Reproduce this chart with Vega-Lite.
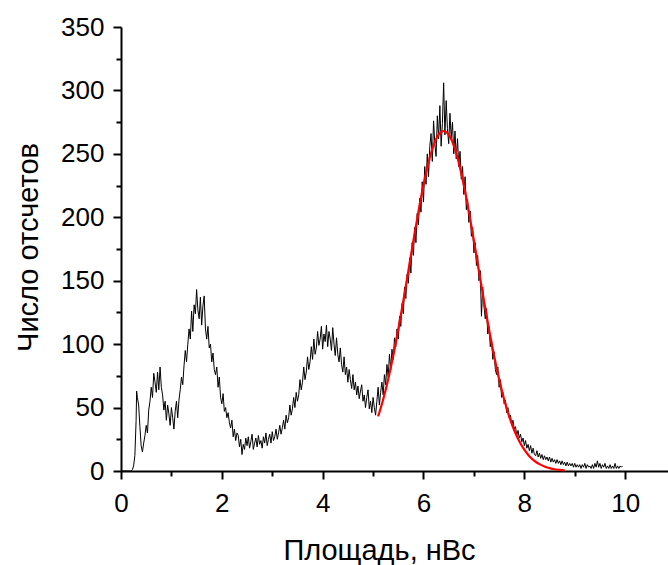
{
  "$schema": "https://vega.github.io/schema/vega-lite/v6.json",
  "autosize": {"type": "none"},
  "padding": {"left": 121, "top": 27, "right": 0, "bottom": 94},
  "width": 547,
  "height": 444,
  "background": "white",
  "config": {"view": {"stroke": null}},
  "datasets": {
    "hist": [
      {"x":0,"y":0},{"x":0.05,"y":0},{"x":0.1,"y":0},{"x":0.15,"y":0},{"x":0.2,"y":0},
      {"x":0.225,"y":1},{"x":0.25,"y":4},{"x":0.275,"y":12},{"x":0.3,"y":40},{"x":0.31,"y":63},
      {"x":0.325,"y":58},{"x":0.35,"y":52},{"x":0.375,"y":35},{"x":0.4,"y":20},{"x":0.425,"y":15},
      {"x":0.45,"y":22},{"x":0.475,"y":28},{"x":0.5,"y":36},{"x":0.525,"y":30},{"x":0.55,"y":48},
      {"x":0.575,"y":55},{"x":0.6,"y":66},{"x":0.625,"y":58},{"x":0.65,"y":77},{"x":0.675,"y":70},
      {"x":0.7,"y":62},{"x":0.725,"y":78},{"x":0.75,"y":64},{"x":0.775,"y":82},{"x":0.8,"y":66},
      {"x":0.825,"y":60},{"x":0.85,"y":48},{"x":0.875,"y":55},{"x":0.9,"y":40},{"x":0.925,"y":52},
      {"x":0.95,"y":45},{"x":0.975,"y":36},{"x":1.0,"y":50},{"x":1.025,"y":42},{"x":1.05,"y":33},
      {"x":1.075,"y":47},{"x":1.1,"y":55},{"x":1.125,"y":42},{"x":1.15,"y":56},{"x":1.175,"y":64},
      {"x":1.2,"y":74},{"x":1.225,"y":68},{"x":1.25,"y":83},{"x":1.275,"y":95},{"x":1.3,"y":86},
      {"x":1.325,"y":100},{"x":1.35,"y":112},{"x":1.375,"y":104},{"x":1.4,"y":126},{"x":1.425,"y":110},
      {"x":1.45,"y":131},{"x":1.475,"y":124},{"x":1.5,"y":143},{"x":1.525,"y":127},{"x":1.55,"y":120},
      {"x":1.575,"y":137},{"x":1.6,"y":115},{"x":1.625,"y":130},{"x":1.65,"y":138},{"x":1.675,"y":112},
      {"x":1.7,"y":104},{"x":1.725,"y":114},{"x":1.75,"y":97},{"x":1.775,"y":100},{"x":1.8,"y":86},
      {"x":1.825,"y":93},{"x":1.85,"y":80},{"x":1.875,"y":76},{"x":1.9,"y":82},{"x":1.925,"y":66},
      {"x":1.95,"y":74},{"x":1.975,"y":58},{"x":2.0,"y":53},{"x":2.025,"y":61},{"x":2.05,"y":47},
      {"x":2.075,"y":50},{"x":2.1,"y":42},{"x":2.125,"y":46},{"x":2.15,"y":38},{"x":2.175,"y":34},
      {"x":2.2,"y":40},{"x":2.225,"y":27},{"x":2.25,"y":33},{"x":2.275,"y":24},{"x":2.3,"y":30},
      {"x":2.325,"y":28},{"x":2.35,"y":19},{"x":2.375,"y":25},{"x":2.4,"y":13},{"x":2.425,"y":21},
      {"x":2.45,"y":17},{"x":2.475,"y":26},{"x":2.5,"y":20},{"x":2.525,"y":27},{"x":2.55,"y":18},
      {"x":2.575,"y":23},{"x":2.6,"y":29},{"x":2.625,"y":17},{"x":2.65,"y":22},{"x":2.675,"y":26},
      {"x":2.7,"y":19},{"x":2.725,"y":28},{"x":2.75,"y":21},{"x":2.775,"y":24},{"x":2.8,"y":18},
      {"x":2.825,"y":27},{"x":2.85,"y":22},{"x":2.875,"y":30},{"x":2.9,"y":20},{"x":2.925,"y":25},
      {"x":2.95,"y":29},{"x":2.975,"y":22},{"x":3.0,"y":31},{"x":3.025,"y":24},{"x":3.05,"y":27},
      {"x":3.075,"y":33},{"x":3.1,"y":25},{"x":3.125,"y":30},{"x":3.15,"y":36},{"x":3.175,"y":29},
      {"x":3.2,"y":34},{"x":3.225,"y":40},{"x":3.25,"y":33},{"x":3.275,"y":44},{"x":3.3,"y":38},
      {"x":3.325,"y":42},{"x":3.35,"y":52},{"x":3.375,"y":44},{"x":3.4,"y":49},{"x":3.425,"y":58},
      {"x":3.45,"y":50},{"x":3.475,"y":62},{"x":3.5,"y":55},{"x":3.525,"y":60},{"x":3.55,"y":72},
      {"x":3.575,"y":64},{"x":3.6,"y":70},{"x":3.625,"y":82},{"x":3.65,"y":72},{"x":3.675,"y":78},
      {"x":3.7,"y":90},{"x":3.725,"y":80},{"x":3.75,"y":86},{"x":3.775,"y":98},{"x":3.8,"y":88},
      {"x":3.825,"y":104},{"x":3.85,"y":92},{"x":3.875,"y":97},{"x":3.9,"y":110},{"x":3.925,"y":99},
      {"x":3.95,"y":104},{"x":3.975,"y":114},{"x":4.0,"y":96},{"x":4.025,"y":108},{"x":4.05,"y":102},
      {"x":4.075,"y":115},{"x":4.1,"y":98},{"x":4.125,"y":110},{"x":4.15,"y":104},{"x":4.175,"y":95},
      {"x":4.2,"y":113},{"x":4.225,"y":100},{"x":4.25,"y":91},{"x":4.275,"y":105},{"x":4.3,"y":92},
      {"x":4.325,"y":86},{"x":4.35,"y":97},{"x":4.375,"y":84},{"x":4.4,"y":78},{"x":4.425,"y":90},
      {"x":4.45,"y":76},{"x":4.475,"y":82},{"x":4.5,"y":70},{"x":4.525,"y":80},{"x":4.55,"y":72},
      {"x":4.575,"y":65},{"x":4.6,"y":76},{"x":4.625,"y":64},{"x":4.65,"y":70},{"x":4.675,"y":60},
      {"x":4.7,"y":67},{"x":4.725,"y":57},{"x":4.75,"y":63},{"x":4.775,"y":68},{"x":4.8,"y":55},
      {"x":4.825,"y":60},{"x":4.85,"y":50},{"x":4.875,"y":58},{"x":4.9,"y":64},{"x":4.925,"y":49},
      {"x":4.95,"y":55},{"x":4.975,"y":46},{"x":5.0,"y":58},{"x":5.025,"y":50},{"x":5.05,"y":44},
      {"x":5.075,"y":55},{"x":5.1,"y":66},{"x":5.125,"y":52},{"x":5.15,"y":62},{"x":5.175,"y":70},
      {"x":5.2,"y":60},{"x":5.225,"y":76},{"x":5.25,"y":68},{"x":5.275,"y":84},{"x":5.3,"y":74},
      {"x":5.325,"y":92},{"x":5.35,"y":80},{"x":5.375,"y":96},{"x":5.4,"y":88},{"x":5.425,"y":105},
      {"x":5.45,"y":98},{"x":5.475,"y":112},{"x":5.5,"y":104},{"x":5.525,"y":122},{"x":5.55,"y":114},
      {"x":5.575,"y":132},{"x":5.6,"y":124},{"x":5.625,"y":145},{"x":5.65,"y":136},{"x":5.675,"y":155},
      {"x":5.7,"y":148},{"x":5.725,"y":168},{"x":5.75,"y":156},{"x":5.775,"y":180},{"x":5.8,"y":170},
      {"x":5.825,"y":192},{"x":5.85,"y":180},{"x":5.875,"y":203},{"x":5.9,"y":194},{"x":5.925,"y":215},
      {"x":5.95,"y":204},{"x":5.975,"y":228},{"x":6.0,"y":212},{"x":6.025,"y":240},{"x":6.05,"y":226},
      {"x":6.075,"y":250},{"x":6.1,"y":232},{"x":6.125,"y":256},{"x":6.15,"y":266},{"x":6.175,"y":244},
      {"x":6.2,"y":276},{"x":6.225,"y":258},{"x":6.25,"y":248},{"x":6.275,"y":280},{"x":6.3,"y":262},
      {"x":6.325,"y":288},{"x":6.35,"y":256},{"x":6.375,"y":274},{"x":6.4,"y":306},{"x":6.425,"y":265},
      {"x":6.45,"y":292},{"x":6.475,"y":270},{"x":6.5,"y":258},{"x":6.525,"y":282},{"x":6.55,"y":262},
      {"x":6.575,"y":275},{"x":6.6,"y":250},{"x":6.625,"y":268},{"x":6.65,"y":246},{"x":6.675,"y":262},
      {"x":6.7,"y":240},{"x":6.725,"y":252},{"x":6.75,"y":230},{"x":6.775,"y":240},{"x":6.8,"y":218},
      {"x":6.825,"y":232},{"x":6.85,"y":206},{"x":6.875,"y":214},{"x":6.9,"y":196},{"x":6.925,"y":205},
      {"x":6.95,"y":185},{"x":6.975,"y":192},{"x":7.0,"y":172},{"x":7.025,"y":180},{"x":7.05,"y":162},
      {"x":7.075,"y":170},{"x":7.1,"y":150},{"x":7.125,"y":158},{"x":7.15,"y":122},{"x":7.175,"y":145},
      {"x":7.2,"y":130},{"x":7.225,"y":120},{"x":7.25,"y":128},{"x":7.275,"y":108},{"x":7.3,"y":114},
      {"x":7.325,"y":98},{"x":7.35,"y":104},{"x":7.375,"y":88},{"x":7.4,"y":94},{"x":7.425,"y":80},
      {"x":7.45,"y":76},{"x":7.475,"y":82},{"x":7.5,"y":66},{"x":7.525,"y":72},{"x":7.55,"y":58},
      {"x":7.575,"y":62},{"x":7.6,"y":53},{"x":7.625,"y":56},{"x":7.65,"y":46},{"x":7.675,"y":50},
      {"x":7.7,"y":42},{"x":7.725,"y":44},{"x":7.75,"y":36},{"x":7.775,"y":40},{"x":7.8,"y":33},
      {"x":7.825,"y":35},{"x":7.85,"y":28},{"x":7.875,"y":32},{"x":7.9,"y":26},{"x":7.925,"y":29},
      {"x":7.95,"y":23},{"x":7.975,"y":26},{"x":8.0,"y":20},{"x":8.025,"y":24},{"x":8.05,"y":18},
      {"x":8.075,"y":21},{"x":8.1,"y":16},{"x":8.125,"y":20},{"x":8.15,"y":14},{"x":8.175,"y":18},
      {"x":8.2,"y":13},{"x":8.225,"y":12},{"x":8.25,"y":16},{"x":8.275,"y":11},{"x":8.3,"y":14},
      {"x":8.325,"y":10},{"x":8.35,"y":13},{"x":8.375,"y":9},{"x":8.4,"y":12},{"x":8.425,"y":9},
      {"x":8.45,"y":11},{"x":8.475,"y":8},{"x":8.5,"y":11},{"x":8.525,"y":7},{"x":8.55,"y":10},
      {"x":8.575,"y":7},{"x":8.6,"y":9},{"x":8.625,"y":6},{"x":8.65,"y":9},{"x":8.675,"y":6},
      {"x":8.7,"y":8},{"x":8.725,"y":5},{"x":8.75,"y":8},{"x":8.775,"y":5},{"x":8.8,"y":7},
      {"x":8.825,"y":4},{"x":8.85,"y":7},{"x":8.875,"y":4},{"x":8.9,"y":6},{"x":8.925,"y":4},
      {"x":8.95,"y":6},{"x":8.975,"y":3},{"x":9.0,"y":6},{"x":9.025,"y":3},{"x":9.05,"y":5},
      {"x":9.075,"y":3},{"x":9.1,"y":5},{"x":9.125,"y":2},{"x":9.15,"y":5},{"x":9.175,"y":3},
      {"x":9.2,"y":6},{"x":9.225,"y":2},{"x":9.25,"y":5},{"x":9.275,"y":3},{"x":9.3,"y":4},
      {"x":9.325,"y":2},{"x":9.35,"y":5},{"x":9.375,"y":2},{"x":9.4,"y":6},{"x":9.425,"y":3},
      {"x":9.45,"y":8},{"x":9.475,"y":3},{"x":9.5,"y":6},{"x":9.525,"y":2},{"x":9.55,"y":5},
      {"x":9.575,"y":3},{"x":9.6,"y":6},{"x":9.625,"y":2},{"x":9.65,"y":4},{"x":9.675,"y":2},
      {"x":9.7,"y":5},{"x":9.725,"y":2},{"x":9.75,"y":4},{"x":9.775,"y":2},{"x":9.8,"y":6},
      {"x":9.825,"y":2},{"x":9.85,"y":4},{"x":9.875,"y":2},{"x":9.9,"y":4},{"x":9.925,"y":3},
      {"x":9.95,"y":4}
    ],
    "fit": [
      {"x":5.1,"y":43.0},{"x":5.2,"y":56.4},{"x":5.3,"y":72.4},{"x":5.4,"y":90.8},{"x":5.5,"y":111.5},
      {"x":5.6,"y":134.1},{"x":5.7,"y":157.7},{"x":5.8,"y":181.5},{"x":5.9,"y":204.5},{"x":6.0,"y":225.4},
      {"x":6.1,"y":243.1},{"x":6.2,"y":256.6},{"x":6.3,"y":265.1},{"x":6.4,"y":268.0},{"x":6.5,"y":265.1},
      {"x":6.6,"y":256.6},{"x":6.7,"y":243.1},{"x":6.8,"y":225.4},{"x":6.9,"y":204.5},{"x":7.0,"y":181.5},
      {"x":7.1,"y":157.7},{"x":7.2,"y":134.1},{"x":7.3,"y":111.5},{"x":7.4,"y":90.8},{"x":7.5,"y":72.4},
      {"x":7.6,"y":56.4},{"x":7.7,"y":43.0},{"x":7.8,"y":32.1},{"x":7.9,"y":23.5},{"x":8.0,"y":16.8},
      {"x":8.1,"y":11.7},{"x":8.2,"y":8.0},{"x":8.3,"y":5.4},{"x":8.4,"y":3.5},{"x":8.5,"y":2.3},
      {"x":8.6,"y":1.4},{"x":8.7,"y":0.9},{"x":8.8,"y":0.5}
    ]
  },
  "encoding": {
    "x": {
      "field": "x", "type": "quantitative",
      "scale": {"domain": [0, 10.85], "nice": false, "zero": false},
      "axis": {
        "values": [0,1,2,3,4,5,6,7,8,9,10],
        "labelExpr": "datum.value % 2 === 0 ? datum.label : ''",
        "tickSize": {"condition": {"test": "datum.value % 2 === 0", "value": 8}, "value": 5},
        "grid": false,
        "domainColor": "black", "domainWidth": 2,
        "tickColor": "black", "tickWidth": 2,
        "labelFont": "Liberation Sans", "labelFontSize": 26, "labelColor": "black",
        "labelPadding": 11, "labelFlush": false, "labelOverlap": false,
        "title": "Площадь, нВс",
        "titleFont": "Liberation Sans", "titleFontSize": 29, "titleFontWeight": "normal", "titleColor": "black",
        "titleX": 258, "titleY": 88, "titleBaseline": "alphabetic", "titleAlign": "center"
      }
    },
    "y": {
      "field": "y", "type": "quantitative",
      "scale": {"domain": [0, 350], "nice": false},
      "axis": {
        "values": [0,25,50,75,100,125,150,175,200,225,250,275,300,325,350],
        "labelExpr": "datum.value % 50 === 0 ? datum.label : ''",
        "tickSize": {"condition": {"test": "datum.value % 50 === 0", "value": 8}, "value": 5},
        "grid": false,
        "domainColor": "black", "domainWidth": 2,
        "tickColor": "black", "tickWidth": 2,
        "labelFont": "Liberation Sans", "labelFontSize": 26, "labelColor": "black",
        "labelPadding": 9, "labelFlush": false, "labelOverlap": false,
        "title": "Число отсчетов",
        "titleFont": "Liberation Sans", "titleFontSize": 29, "titleFontWeight": "normal", "titleColor": "black",
        "titleX": -84, "titleY": 220, "titleBaseline": "alphabetic", "titleAlign": "center", "titleAngle": -90
      }
    }
  },
  "layer": [
    {"data": {"name": "hist"}, "mark": {"type": "line", "color": "black", "strokeWidth": 1}},
    {"data": {"name": "fit"}, "mark": {"type": "line", "color": "#ff0000", "strokeWidth": 2.2, "interpolate": "monotone"}}
  ]
}
